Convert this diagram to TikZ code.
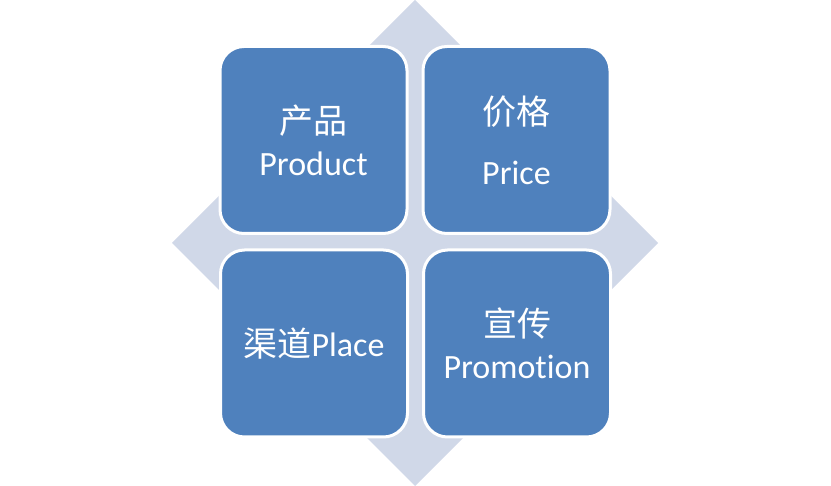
\documentclass[tikz,border=0pt]{standalone}
\usepackage{fontspec}
\setmainfont{Carlito}[Ligatures={NoCommon}]
\newfontfamily\cjk{Noto Sans CJK SC}
\definecolor{boxblue}{RGB}{79,129,189}
\definecolor{backblue}{RGB}{208,216,232}
\tikzset{
  quad/.style={draw=white,line width=3pt,fill=boxblue,rounded corners=24pt,
    minimum width=187pt,minimum height=187pt,text=white,align=center,
    font=\fontsize{34}{42}\selectfont}
}
\begin{document}
\begin{tikzpicture}[x=1pt,y=-1pt]
    \useasboundingbox (0,0) rectangle (831,486);
    %% background diamond
    \fill[backblue] (415,0) -- (658,243) -- (415,486) -- (172,243) -- cycle;
    %% four boxes
    \node[quad] (product) at (313.5,140) {{\cjk 产品}\\Product};
    \node[quad] (price) at (516.5,140) {{\cjk 价格}\\[18pt]Price};
    \node[quad] (place) at (314,343.5) {{\cjk 渠道}Place};
    \node[quad] (promotion) at (517,343.5) {{\cjk 宣传}\\Promotion};
  \end{tikzpicture}
\end{document}
